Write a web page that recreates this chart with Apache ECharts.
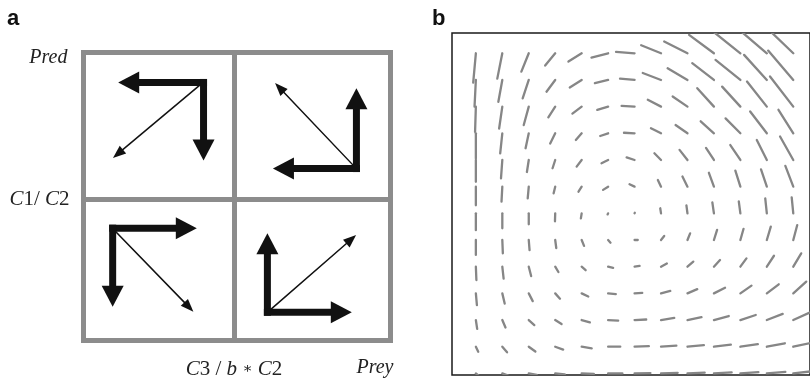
<!DOCTYPE html>
<html>
<head>
<meta charset="utf-8">
<style>
  html, body { margin: 0; padding: 0; background: #fff; }
  #chart { width: 810px; height: 382px; }
</style>
<script src="https://cdn.jsdelivr.net/npm/echarts@6/dist/echarts.min.js"></script>
</head>
<body>
<div id="chart"></div>
<script>
// ---- Panel a: sign diagram of the predator-prey system ----
// Equilibrium lines (fraction of the box along each axis)
const preyEquilibrium = 0.49;   // C3 / (b * C2)
const predEquilibrium = 0.49;   // C1 / C2

// Heavy component arrows: [x0, y0, x1, y1] in box units
const componentArrows = [
  [0.391, 0.896, 0.113, 0.896], [0.391, 0.896, 0.391, 0.625],   // upper left
  [0.889, 0.597, 0.889, 0.876], [0.889, 0.597, 0.617, 0.597],   // upper right
  [0.095, 0.390, 0.369, 0.390], [0.095, 0.390, 0.095, 0.117],   // lower left
  [0.599, 0.098, 0.599, 0.372], [0.599, 0.098, 0.874, 0.098]    // lower right
];
// Thin resultant arrows
const resultantArrows = [
  [0.376, 0.884, 0.096, 0.634],
  [0.878, 0.609, 0.624, 0.894],
  [0.106, 0.377, 0.358, 0.100],
  [0.611, 0.109, 0.888, 0.366]
];

// ---- Panel b: direction field on a 13 x 13 lattice ----
// Rows listed from the top (predator level 12) down to the bottom (level 0);
// each entry is the step along prey (U) and predator (V) in lattice units.
const fieldU = [
  [-0.10, -0.19, -0.28, -0.38, -0.50, -0.63, -0.70, -0.75, -0.88, -0.94, -1.20, -1.15, -1.05],
  [-0.05, -0.15, -0.23, -0.33, -0.45, -0.50, -0.55, -0.69, -0.75, -0.82, -0.94, -0.86, -0.95],
  [-0.03, -0.12, -0.19, -0.26, -0.35, -0.41, -0.49, -0.50, -0.56, -0.63, -0.69, -0.75, -0.88],
  [ 0.00, -0.08, -0.12, -0.19, -0.22, -0.30, -0.40, -0.38, -0.45, -0.50, -0.56, -0.63, -0.56],
  [ 0.00, -0.05, -0.07, -0.10, -0.19, -0.25, -0.30, -0.25, -0.30, -0.30, -0.38, -0.38, -0.50],
  [ 0.00, -0.03, -0.04, -0.06, -0.12, -0.19, -0.19, -0.12, -0.19, -0.19, -0.19, -0.22, -0.30],
  [ 0.00,  0.00,  0.00, -0.01, -0.03, -0.02,  0.01, -0.03, -0.04, -0.06, -0.06, -0.06, -0.06],
  [ 0.00,  0.02,  0.03,  0.04,  0.09,  0.09,  0.12,  0.12,  0.10,  0.12,  0.12,  0.15,  0.15],
  [ 0.02,  0.05,  0.09,  0.12,  0.15,  0.19,  0.19,  0.22,  0.22,  0.23,  0.23,  0.27,  0.30],
  [ 0.04,  0.09,  0.15,  0.18,  0.25,  0.29,  0.29,  0.35,  0.37,  0.42,  0.42,  0.45,  0.49],
  [ 0.05,  0.12,  0.21,  0.24,  0.31,  0.38,  0.44,  0.50,  0.53,  0.56,  0.58,  0.60,  0.62],
  [ 0.09,  0.18,  0.25,  0.30,  0.38,  0.46,  0.54,  0.58,  0.62,  0.64,  0.66,  0.68,  0.70],
  [ 0.12,  0.22,  0.30,  0.36,  0.46,  0.54,  0.60,  0.63,  0.65,  0.67,  0.68,  0.70,  0.72]
];
const fieldV = [
  [-1.10, -0.95, -0.69, -0.46, -0.31, -0.16,  0.05,  0.30,  0.44,  0.69,  0.95,  0.97,  1.00],
  [-1.00, -0.82, -0.69, -0.44, -0.28, -0.12,  0.05,  0.26,  0.44,  0.63,  0.75,  0.94,  1.10],
  [-0.95, -0.82, -0.69, -0.40, -0.26, -0.12,  0.03,  0.26,  0.38,  0.69,  0.75,  0.94,  1.13],
  [-0.94, -0.75, -0.56, -0.38, -0.25, -0.10,  0.02,  0.19,  0.31,  0.45,  0.56,  0.82,  0.88],
  [-0.82, -0.69, -0.45, -0.31, -0.25, -0.12,  0.10,  0.25,  0.38,  0.45,  0.56,  0.75,  0.88],
  [-0.70, -0.56, -0.44, -0.25, -0.19, -0.12,  0.09,  0.25,  0.38,  0.52,  0.60,  0.65,  0.78],
  [-0.63, -0.56, -0.41, -0.30, -0.19, -0.04,  0.02,  0.19,  0.30,  0.41,  0.45,  0.56,  0.60],
  [-0.56, -0.50, -0.38, -0.30, -0.22, -0.10,  0.00,  0.15,  0.25,  0.38,  0.42,  0.50,  0.56],
  [-0.50, -0.45, -0.35, -0.20, -0.13, -0.04,  0.03,  0.12,  0.19,  0.25,  0.31,  0.41,  0.50],
  [-0.44, -0.38, -0.29, -0.20, -0.12, -0.03,  0.02,  0.09,  0.16,  0.21,  0.29,  0.34,  0.44],
  [-0.33, -0.28, -0.19, -0.15, -0.09, -0.02,  0.02,  0.08,  0.11,  0.15,  0.19,  0.23,  0.28],
  [-0.19, -0.21, -0.18, -0.11, -0.06,  0.00,  0.02,  0.04,  0.06,  0.08,  0.10,  0.13,  0.15],
  [-0.10, -0.08, -0.06, -0.04, -0.02,  0.00,  0.01,  0.02,  0.03,  0.04,  0.05,  0.06,  0.08]
];

// Flatten the lattice into [prey, pred, u, v] items
const fieldData = [];
fieldU.forEach(function (row, r) {
  const pred = fieldU.length - 1 - r;
  row.forEach(function (u, prey) {
    fieldData.push([prey, pred, u, fieldV[r][prey]]);
  });
});

const serif = 'Liberation Serif, Times New Roman, serif';
const richItalic = {
  i: { fontStyle: 'italic', fontFamily: serif, fontSize: 21, color: '#222' },
  n: { fontFamily: serif, fontSize: 21, color: '#222' },
  m: { fontFamily: 'DejaVu Serif, serif', fontSize: 15, color: '#222' }
};

function arrowRenderer(headLen, headWid, shaft) {
  return function (params, api) {
    const a = api.coord([api.value(0), api.value(1)]);
    const b = api.coord([api.value(2), api.value(3)]);
    const dx = b[0] - a[0], dy = b[1] - a[1];
    const len = Math.sqrt(dx * dx + dy * dy);
    const ux = dx / len, uy = dy / len;
    const bx = b[0] - ux * headLen, by = b[1] - uy * headLen;
    const px = -uy * headWid / 2, py = ux * headWid / 2;
    return {
      type: 'group',
      children: [
        { type: 'line', shape: { x1: a[0], y1: a[1], x2: bx + ux, y2: by + uy },
          style: { stroke: '#111', lineWidth: shaft, lineCap: 'square' } },
        { type: 'polygon', shape: { points: [[b[0], b[1]], [bx + px, by + py], [bx - px, by - py]] },
          style: { fill: '#111' } }
      ]
    };
  };
}

const panelLetter = { fontFamily: 'Liberation Sans, Arial, sans-serif', fontWeight: 'bold', fontSize: 22, color: '#111' };

const chart = echarts.init(document.getElementById('chart'), null, { renderer: 'canvas' });
chart.setOption({
  backgroundColor: '#fff',
  animation: false,
  title: [
    { text: 'a', left: 2, top: 3, textStyle: panelLetter },
    { text: 'b', left: 427, top: 3, textStyle: panelLetter }
  ],
  grid: [
    { left: 83.5, top: 52.5, width: 307, height: 288, show: true, borderColor: '#8c8c8c', borderWidth: 5, backgroundColor: 'transparent' },
    { left: 452, top: 33, width: 360, height: 342, show: true, borderColor: '#1a1a1a', borderWidth: 1.5, backgroundColor: 'transparent' }
  ],
  xAxis: [
    {
      gridIndex: 0, type: 'value', min: 0, max: 1,
      axisLine: { show: false }, axisTick: { show: false }, splitLine: { show: false },
      axisLabel: {
        customValues: [preyEquilibrium], margin: 18, rich: richItalic,
        formatter: function () { return '{i|C}{n|3 / }{i|b}{n| }{m|\u2217}{n| }{i|C}{n|2}'; }
      },
      name: 'Prey', nameLocation: 'end', nameGap: 3,
      nameTextStyle: { fontFamily: serif, fontStyle: 'italic', fontSize: 20, color: '#222', align: 'right', verticalAlign: 'top', padding: [17, 0, 0, 0] }
    },
    {
      gridIndex: 1, type: 'value', min: -0.902, max: 12.632, show: false
    }
  ],
  yAxis: [
    {
      gridIndex: 0, type: 'value', min: 0, max: 1,
      axisLine: { show: false }, axisTick: { show: false }, splitLine: { show: false },
      axisLabel: {
        customValues: [predEquilibrium], margin: 14, rich: richItalic,
        formatter: function () { return '{i|C}{n|1/ }{i|C}{n|2}'; }
      },
      name: 'Pred', nameLocation: 'end', nameGap: -5,
      nameTextStyle: { fontFamily: serif, fontStyle: 'italic', fontSize: 20, color: '#222', align: 'right', verticalAlign: 'middle', padding: [0, 16, 0, 0] }
    },
    {
      gridIndex: 1, type: 'value', min: -0.06, max: 12.76, show: false
    }
  ],
  series: [
    {
      type: 'custom', name: 'components', xAxisIndex: 0, yAxisIndex: 0,
      data: componentArrows, encode: { x: [0, 2], y: [1, 3] },
      renderItem: arrowRenderer(21, 22, 7),
      markLine: {
        silent: true, symbol: 'none', label: { show: false },
        lineStyle: { color: '#8c8c8c', width: 5, type: 'solid' },
        data: [{ xAxis: preyEquilibrium }, { yAxis: predEquilibrium }]
      },
      z: 3
    },
    {
      type: 'custom', name: 'resultant', xAxisIndex: 0, yAxisIndex: 0,
      data: resultantArrows, encode: { x: [0, 2], y: [1, 3] },
      renderItem: arrowRenderer(13, 10, 1.5),
      z: 3
    },
    {
      type: 'custom', name: 'field', xAxisIndex: 1, yAxisIndex: 1,
      data: fieldData, encode: { x: 0, y: 1 }, clip: true,
      renderItem: function (params, api) {
        const p = api.value(0), q = api.value(1);
        const a = api.coord([p, q]);
        const b = api.coord([p + api.value(2), q + api.value(3)]);
        return { type: 'line', shape: { x1: a[0], y1: a[1], x2: b[0], y2: b[1] },
                 style: { stroke: '#868686', lineWidth: 2.3, lineCap: 'round' } };
      }
    }
  ]
});
</script>
</body>
</html>
